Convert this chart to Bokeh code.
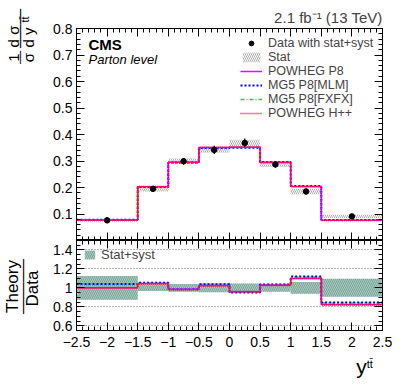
import numpy as np
from math import pi
from bokeh.plotting import figure
from bokeh.layouts import column, row
from bokeh.models import (Legend, LegendItem, LinearAxis, SingleIntervalTicker,
                          Range1d, Grid, CustomJSTickFormatter, Title)
from bokeh.core.properties import value
from bokeh.embed import file_html
from bokeh.resources import INLINE

# ---------------- data ----------------
bin_edges = [-2.5, -1.5, -1.0, -0.5, 0.0, 0.5, 1.0, 1.5, 2.5]
bin_centers = [-2.0, -1.25, -0.75, -0.25, 0.25, 0.75, 1.25, 2.0]
data_xsec = [0.076, 0.195, 0.299, 0.342, 0.368, 0.287, 0.185, 0.091]
data_stat = [0.004, 0.010, 0.010, 0.011, 0.012, 0.010, 0.010, 0.006]
rel_unc_total = [0.125, 0.034, 0.042, 0.045, 0.045, 0.040, 0.063, 0.095]

powheg_p8 = [0.077, 0.203, 0.295, 0.351, 0.352, 0.295, 0.204, 0.076]
mg5_mlm = [0.078, 0.202, 0.294, 0.349, 0.350, 0.296, 0.206, 0.077]
mg5_fxfx = [0.078, 0.203, 0.295, 0.350, 0.351, 0.295, 0.205, 0.077]
powheg_hpp = [0.077, 0.204, 0.295, 0.352, 0.353, 0.294, 0.203, 0.076]

ratio_powheg_p8 = [1.000, 1.045, 0.985, 1.024, 0.960, 1.027, 1.100, 0.825]
ratio_mg5_mlm = [1.040, 1.055, 0.985, 1.037, 0.950, 1.035, 1.120, 0.845]
ratio_mg5_fxfx = [1.035, 1.050, 0.985, 1.030, 0.955, 1.035, 1.115, 0.840]
ratio_powheg_hpp = [1.000, 1.040, 0.980, 1.020, 0.960, 1.025, 1.100, 0.820]

x_tick_labels = {-2.5: "\u22122.5", -2.0: "\u22122", -1.5: "\u22121.5", -1.0: "\u22121",
                 -0.5: "\u22120.5", 0.0: "0", 0.5: "0.5", 1.0: "1", 1.5: "1.5",
                 2.0: "2", 2.5: "2.5"}

FONT = "Liberation Sans"
MONO = "DejaVu Sans Mono"
LEFT_W = 44

STYLE_HPP = dict(line_color="#ff0000", line_width=1.6, line_dash="1 1")
STYLE_P8 = dict(line_color="#ff00ff", line_width=1.5)
STYLE_FXFX = dict(line_color="#33cc33", line_width=1.5, line_dash="4 2 1 2")
STYLE_MLM = dict(line_color="#0000ff", line_width=2, line_dash="2 2")


def make_axis(ticker, show, overrides=None, size="14px", standoff=4):
    ax = LinearAxis(ticker=ticker)
    ax.axis_line_color = "black"
    ax.major_tick_in = 8
    ax.major_tick_out = 0
    ax.minor_tick_in = 4
    ax.minor_tick_out = 0
    ax.major_tick_line_color = "black"
    ax.minor_tick_line_color = "black"
    if show:
        ax.major_label_text_font = FONT
        ax.major_label_text_font_size = size
        ax.major_label_text_color = "black"
        ax.major_label_standoff = standoff
        if overrides:
            ax.major_label_overrides = overrides
    else:
        ax.formatter = CustomJSTickFormatter(code="return ''")
        ax.major_label_standoff = 0
        ax.major_label_text_font_size = "1px"
    return ax


def step_y(vals):
    return list(vals) + [vals[-1]]


def blank_fig(w, h, xr, yr):
    f = figure(width=w, height=h, x_range=xr, y_range=yr, output_backend="svg",
               toolbar_location=None, title=None, min_border=0,
               x_axis_location=None, y_axis_location=None)
    f.grid.visible = False
    f.outline_line_color = None
    return f


def put_text(fig, x, y, text, size, font=FONT, style="normal", **kw):
    fig.text(x=[x], y=[y], text=[text], text_font=value(font), text_font_size=size,
             text_font_style=style, text_color="black", **kw)

# ---------------- top panel ----------------
W = 351
top = figure(width=W, height=240, x_range=Range1d(-2.5, 2.5), y_range=Range1d(0, 0.8),
             output_backend="svg", toolbar_location=None,
             min_border_left=32, min_border_right=13, min_border_top=28, min_border_bottom=0,
             x_axis_location=None, y_axis_location=None)
top.title = Title(text="2.1 fb\u207b\u00b9 (13 TeV)", align="right", text_font=FONT,
                  text_font_size="15px", text_font_style="normal", standoff=5)
top.grid.visible = False
top.outline_line_color = "black"

xt = SingleIntervalTicker(interval=0.5, num_minor_ticks=5)
yt = SingleIntervalTicker(interval=0.1, num_minor_ticks=5)
top.add_layout(make_axis(yt, True, overrides={0.0: ""}), "left")
top.add_layout(make_axis(yt, False), "right")
top.add_layout(make_axis(xt, False), "below")
top.add_layout(make_axis(xt, False), "above")

d_lo = [v - s for v, s in zip(data_xsec, data_stat)]
d_hi = [v + s for v, s in zip(data_xsec, data_stat)]
stat_r = top.quad(left=bin_edges[:-1], right=bin_edges[1:], bottom=d_lo, top=d_hi,
                  fill_alpha=0, line_alpha=0, hatch_pattern="\\", hatch_color="#6a6a6a",
                  hatch_scale=4, hatch_weight=0.6, hatch_alpha=0.9)

r_fxfx = top.step(x=bin_edges, y=step_y(mg5_fxfx), mode="after", **STYLE_FXFX)
r_mlm = top.step(x=bin_edges, y=step_y(mg5_mlm), mode="after", **STYLE_MLM)
r_p8 = top.step(x=bin_edges, y=step_y(powheg_p8), mode="after", **STYLE_P8)
r_hpp = top.step(x=bin_edges, y=step_y(powheg_hpp), mode="after", **STYLE_HPP)

err_abs = [v * r for v, r in zip(data_xsec, rel_unc_total)]
top.segment(x0=bin_centers, x1=bin_centers,
            y0=[v - e for v, e in zip(data_xsec, err_abs)],
            y1=[v + e for v, e in zip(data_xsec, err_abs)], line_color="black", line_width=1.2)
r_data = top.scatter(x=bin_centers, y=data_xsec, marker="circle", size=5.5, color="black")

leg = Legend(items=[LegendItem(label="Data with stat+syst", renderers=[r_data]),
                    LegendItem(label="Stat", renderers=[stat_r]),
                    LegendItem(label="POWHEG P8", renderers=[r_p8]),
                    LegendItem(label="MG5 P8[MLM]", renderers=[r_mlm]),
                    LegendItem(label="MG5 P8[FXFX]", renderers=[r_fxfx]),
                    LegendItem(label="POWHEG H++", renderers=[r_hpp])],
             location=(164, 120), padding=0, margin=0, spacing=-1,
             border_line_alpha=0, background_fill_alpha=0,
             glyph_width=22, glyph_height=12, label_height=12, label_standoff=6,
             label_text_font=FONT, label_text_font_size="12.5px")
top.add_layout(leg, "center")

put_text(top, -2.304, 0.709, "CMS", "15px", style="bold")
put_text(top, -2.304, 0.656, "Parton level", "13px", style="italic")

# ---------------- ratio panel ----------------
bot = figure(width=W, height=113, x_range=top.x_range, y_range=Range1d(0.55, 1.5),
             output_backend="svg", toolbar_location=None, title=None,
             min_border_left=32, min_border_right=13, min_border_top=0, min_border_bottom=23,
             x_axis_location=None, y_axis_location=None)
bot.grid.visible = False
bot.outline_line_color = "black"

rt = SingleIntervalTicker(interval=0.2, num_minor_ticks=4)
bot.add_layout(make_axis(rt, True, overrides={1.0: "1"}), "left")
bot.add_layout(make_axis(rt, False), "right")
bot.add_layout(make_axis(xt, True, overrides=x_tick_labels, standoff=6), "below")
bot.add_layout(make_axis(xt, False), "above")
bot.add_layout(Grid(dimension=1, ticker=rt, grid_line_color="#777777",
                    grid_line_dash="1 2", grid_line_width=1))

band = bot.quad(left=bin_edges[:-1], right=bin_edges[1:],
                bottom=[1 - r for r in rel_unc_total], top=[1 + r for r in rel_unc_total],
                fill_color="#a3cabf", line_alpha=0, hatch_pattern="\\",
                hatch_color="#587a72", hatch_scale=4, hatch_weight=0.6, hatch_alpha=0.8)

bot.step(x=bin_edges, y=step_y(ratio_mg5_fxfx), mode="after", **STYLE_FXFX)
bot.step(x=bin_edges, y=step_y(ratio_mg5_mlm), mode="after", **STYLE_MLM)
bot.step(x=bin_edges, y=step_y(ratio_powheg_p8), mode="after", **STYLE_P8)
bot.step(x=bin_edges, y=step_y(ratio_powheg_hpp), mode="after", **STYLE_HPP)

leg2 = Legend(items=[LegendItem(label="Stat+syst", renderers=[band])],
              location=(7, 68), padding=0, margin=0, spacing=0,
              border_line_alpha=0, background_fill_alpha=0,
              glyph_width=13, glyph_height=11, label_height=11, label_standoff=5,
              label_text_font=FONT, label_text_font_size="13px")
bot.add_layout(leg2, "center")

# ---------------- x-axis title strip ----------------
xtit = blank_fig(W, 30, Range1d(0, W), Range1d(30, 0))
put_text(xtit, 333, 24, "y", "21px", text_align="right")
put_text(xtit, 333, 16, "tt\u0304", "11px", text_align="left")

# ---------------- y-axis titles strip (page pixel frame) ----------------
ytit = blank_fig(LEFT_W, 383, Range1d(0, LEFT_W), Range1d(383, 0))
rot = dict(angle=pi / 2, text_align="center", text_baseline="middle")
put_text(ytit, 13, 57, "1", "15px", **rot)
put_text(ytit, 20, 57, "\u2500\u2500", "11px", font=MONO, **rot)
put_text(ytit, 28, 57, "\u03c3", "15px", **rot)
put_text(ytit, 13, 36, "d \u03c3", "15px", **rot)
put_text(ytit, 20, 28, "\u2500" * 5, "13px", font=MONO, **rot)
put_text(ytit, 28, 37, "d y", "15px", **rot)
put_text(ytit, 24, 19, "tt\u0304", "11px", **rot)
put_text(ytit, 12, 286, "Theory", "17px", **rot)
put_text(ytit, 23, 286, "\u2500" * 7, "13px", font=MONO, **rot)
put_text(ytit, 32, 288, "Data", "17px", **rot)

layout = row(ytit, column(top, bot, xtit, spacing=0), spacing=0)
open("out.html", "w").write(file_html(layout, INLINE))
